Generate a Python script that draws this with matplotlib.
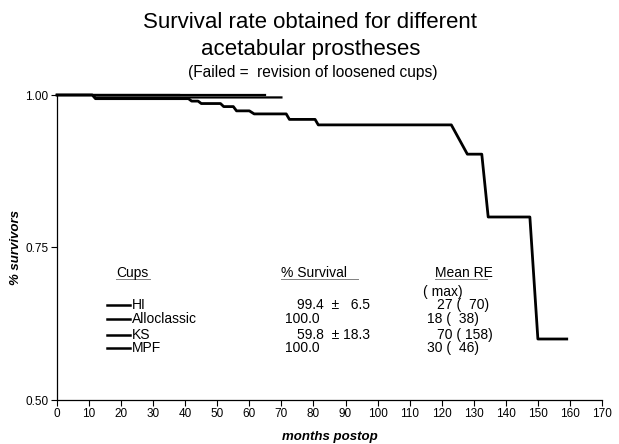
import matplotlib.pyplot as plt
from matplotlib.lines import Line2D

plt.rcParams["font.family"] = ["Liberation Sans", "DejaVu Sans"]

# Kaplan-Meier style curves (months, survival fraction)
hi_months = [0, 11, 12, 70]
hi_surv = [1.0, 1.0, 0.996, 0.996]

allo_months = [0, 38]
allo_surv = [1.0, 1.0]

ks_months = [0, 11, 12, 41, 42, 44, 45, 51, 52, 55, 56, 60, 61.5, 71.5, 72.5,
             80.5, 81.5, 123, 128, 132.5, 134.5, 147.5, 150, 159]
ks_surv = [1.0, 1.0, 0.994, 0.994, 0.99, 0.99, 0.986, 0.986, 0.981, 0.981,
           0.974, 0.974, 0.969, 0.969, 0.960, 0.960, 0.951, 0.951, 0.903,
           0.903, 0.80, 0.80, 0.60, 0.60]

mpf_months = [0, 65]
mpf_surv = [1.0, 1.0]

cups = ["HI", "Alloclassic", "KS", "MPF"]
survival_txt = ["99.4  \u00b1   6.5", "100.0", "59.8  \u00b1 18.3", "100.0"]
mean_re_txt = ["27 (  70)", "18 (  38)", "70 ( 158)", "30 (  46)"]

W, H = 619, 444
fig = plt.figure(figsize=(W / 100, H / 100), dpi=100)
ax = fig.add_axes([57 / W, 1 - 400 / H, 545 / W, 305 / H])


def fx(x):
    return x / W


def fy(y):
    return 1 - y / H


ax.plot(mpf_months, mpf_surv, color="black", lw=1.6, clip_on=False)
ax.plot(allo_months, allo_surv, color="black", lw=1.6, clip_on=False)
ax.plot(hi_months, hi_surv, color="black", lw=1.6, clip_on=False)
ax.plot(ks_months, ks_surv, color="black", lw=2.0, clip_on=False)

ax.set_xlim(0, 170)
ax.set_ylim(0.5, 1.0)
ax.set_xticks(range(0, 171, 10))
ax.set_yticks([0.50, 0.75, 1.00])
ax.set_yticklabels(["0.50", "0.75", "1.00"])
ax.tick_params(axis="both", labelsize=8.5, length=4, width=0.8, pad=2)
for s in ["top", "right"]:
    ax.spines[s].set_visible(False)
for s in ["left", "bottom"]:
    ax.spines[s].set_linewidth(0.9)

ax.set_xlabel("months postop", fontsize=9.5, fontweight="bold", style="italic", labelpad=8)
ax.set_ylabel("% survivors", fontsize=9.5, fontweight="bold", style="italic")
ax.yaxis.set_label_coords(-0.064, 0.5)

# titles
fig.text(fx(310), fy(22), "Survival rate obtained for different", ha="center", va="center", fontsize=16)
fig.text(fx(311), fy(50), "acetabular prostheses", ha="center", va="center", fontsize=16)
fig.text(fx(313), fy(73), "(Failed =  revision of loosened cups)", ha="center", va="center", fontsize=11.2)

# legend table
fs = 10
fig.text(fx(116), fy(273), "Cups", ha="left", va="center", fontsize=fs)
fig.text(fx(281), fy(273), "% Survival", ha="left", va="center", fontsize=fs)
fig.text(fx(435), fy(273), "Mean RE", ha="left", va="center", fontsize=fs)
fig.text(fx(423), fy(292), "( max)", ha="left", va="center", fontsize=fs)
for x0, x1 in [(116, 150), (281, 358), (435, 487)]:
    fig.add_artist(Line2D([fx(x0), fx(x1)], [fy(279), fy(279)], color="gray", lw=0.7))

row_y = [305, 319, 335, 348]
surv_x = [297, 285, 297, 285]
re_x = [437, 427, 437, 427]
for i, name in enumerate(cups):
    y = row_y[i]
    fig.add_artist(Line2D([fx(107), fx(130)], [fy(y), fy(y)], color="black", lw=1.8))
    fig.text(fx(132), fy(y), name, ha="left", va="center", fontsize=fs)
    fig.text(fx(surv_x[i]), fy(y), survival_txt[i], ha="left", va="center", fontsize=fs)
    fig.text(fx(re_x[i]), fy(y), mean_re_txt[i], ha="left", va="center", fontsize=fs)

fig.savefig("out.png", dpi=100)
